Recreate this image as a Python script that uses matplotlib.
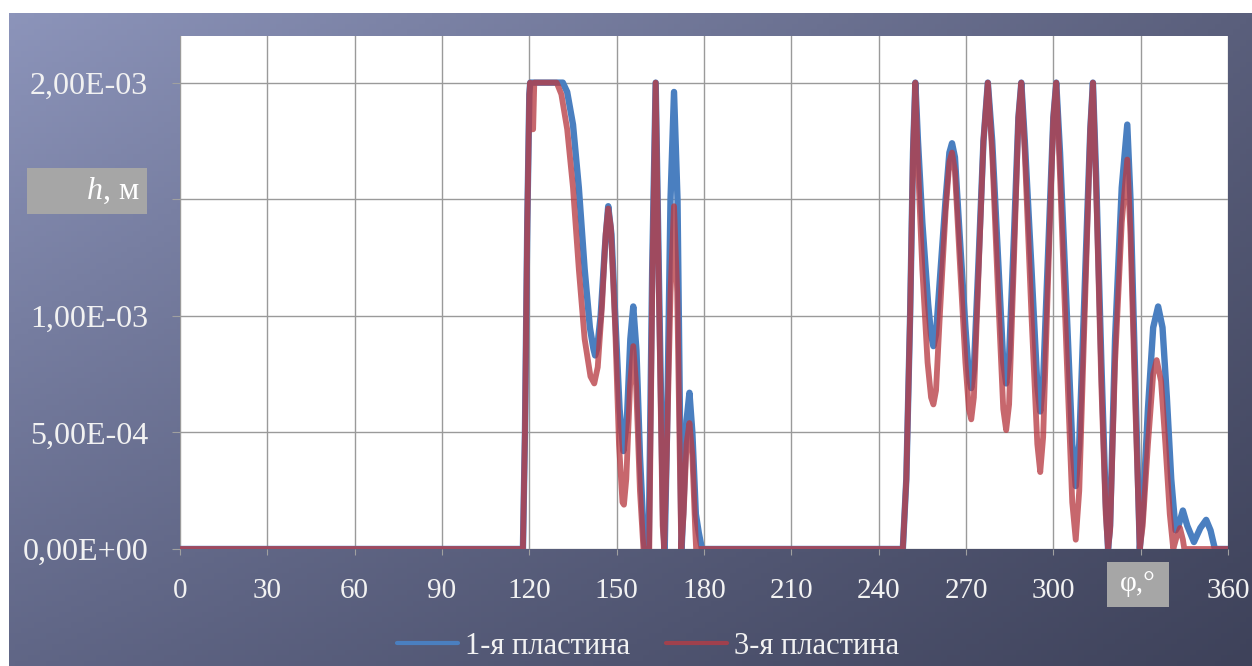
import numpy as np
import matplotlib
matplotlib.use("Agg")
import matplotlib.pyplot as plt
from matplotlib.patches import Rectangle

plt.rcParams['font.family'] = ['Liberation Serif', 'DejaVu Serif']
plt.rcParams['mathtext.fontset'] = 'custom'
plt.rcParams['mathtext.it'] = 'Liberation Serif:italic'
plt.rcParams['mathtext.rm'] = 'Liberation Serif'

# h (x1e-3 m) vs phi (deg)
phi_1 = [0, 117.8, 118.5, 119.3, 120, 120.3, 131.5, 133, 135, 137, 139, 140.8, 142, 142.6,
         143.3, 144.5, 146, 147.1, 148.2, 149.5, 151, 152.3, 153.5, 154.7, 155.7, 156.8,
         158, 159.3, 159.6, 161, 162.2, 163.4, 164.6, 166, 166.5, 167.3, 168.5, 169.7,
         170.9, 171.8, 172.3, 173, 174, 175, 176, 177.2, 178.2, 179.3,
         248.3, 249.5, 250.8, 251.8, 252.6, 253.5, 255, 257, 258, 258.8, 259.7, 261, 263,
         264.3, 265.2, 266.2, 267.8, 269.8, 271, 271.8, 272.7, 274.2, 276, 277.5, 279, 281,
         282.8, 283.8, 284.8, 286.5, 288, 289, 290.2, 292.5, 294.5, 295.5, 296.5, 298.3,
         300, 301, 302.3, 304.5, 306.5, 307.7, 308.9, 311, 312.7, 313.6, 314.7, 316.5, 318,
         318.8, 319.5, 321.2, 323.5, 325.4, 326.5, 328.2, 329.7, 330.7, 332.5, 334.3, 336,
         337.5, 339, 340.5, 342, 343, 344.5, 346, 348.3, 350.5, 352.5, 354, 355.5, 360]
h_1 = [0, 0, 0.5, 1.4, 1.95, 2.0, 2.0, 1.96, 1.82, 1.55, 1.2, 0.95, 0.86, 0.83,
       0.86, 1.0, 1.3, 1.47, 1.35, 1.0, 0.6, 0.42, 0.55, 0.9, 1.04, 0.85,
       0.4, 0.05, 0, 0, 1.2, 2.0, 1.1, 0.1, 0, 0.5, 1.5, 1.96,
       1.5, 0.5, 0, 0.2, 0.55, 0.67, 0.5, 0.15, 0.07, 0,
       0, 0.3, 1.0, 1.7, 2.0, 1.75, 1.4, 1.05, 0.92, 0.87, 0.92, 1.15, 1.5,
       1.7, 1.74, 1.68, 1.35, 0.95, 0.74, 0.69, 0.77, 1.2, 1.75, 2.0, 1.75, 1.25,
       0.8, 0.71, 0.82, 1.35, 1.85, 2.0, 1.75, 1.2, 0.7, 0.59, 0.72, 1.3,
       1.85, 2.0, 1.7, 1.05, 0.45, 0.27, 0.45, 1.2, 1.8, 2.0, 1.6, 0.8, 0.2,
       0, 0.1, 0.9, 1.55, 1.82, 1.5, 0.7, 0, 0.15, 0.6, 0.95, 1.04,
       0.95, 0.65, 0.3, 0.08, 0.1, 0.165, 0.1, 0.03, 0.09, 0.125, 0.08, 0, 0]

phi_3 = [0, 117.8, 118.5, 119.3, 120, 120.3, 120.7, 121.3, 121.7, 129.4, 131, 133, 135, 137,
         139, 141, 142.3, 143.5, 145, 146.2, 147.1, 148, 149.5, 150.8, 152, 152.5, 153.3,
         154.6, 155.7, 156.7, 158, 159.2, 161.2, 162.3, 163.4, 164.5, 165.8, 166.3, 167.2,
         168.5, 169.7, 170.8, 171.8, 172.2, 173, 174, 175, 176, 177, 177.3,
         248.3, 249.5, 250.8, 251.8, 252.6, 253.5, 255, 256.8, 258, 258.8, 259.7, 261, 263,
         264.3, 265.2, 266.2, 267.8, 269.8, 271, 271.8, 272.7, 274.2, 276, 277.5, 279, 281,
         282.8, 283.8, 284.8, 286.5, 288, 289, 290.2, 292.5, 294.5, 295.5, 296.5, 298.3,
         300, 301, 302.3, 304.5, 306.5, 307.7, 308.9, 311, 312.7, 313.6, 314.7, 316.5, 318,
         318.8, 319.5, 321.2, 323.5, 325.4, 326.5, 328.2, 329.7, 330.7, 332.5, 334.3, 335.5,
         337, 338.5, 340, 341.2, 342.3, 343.5, 344.5, 345, 360]
h_3 = [0, 0, 0.5, 1.4, 1.95, 2.0, 1.8, 1.8, 2.0, 2.0, 1.95, 1.8, 1.55, 1.2,
       0.9, 0.74, 0.71, 0.78, 1.05, 1.35, 1.46, 1.38, 0.95, 0.45, 0.2, 0.19, 0.3,
       0.7, 0.87, 0.7, 0.25, 0, 0, 1.2, 2.0, 1.1, 0.1, 0, 0.4,
       1.1, 1.47, 1.1, 0.3, 0, 0.15, 0.45, 0.54, 0.4, 0.08, 0,
       0, 0.3, 1.0, 1.7, 2.0, 1.65, 1.2, 0.8, 0.65, 0.62, 0.68, 1.0, 1.45,
       1.66, 1.70, 1.62, 1.25, 0.8, 0.6, 0.556, 0.65, 1.15, 1.75, 2.0, 1.7, 1.1,
       0.6, 0.51, 0.62, 1.25, 1.85, 2.0, 1.7, 1.0, 0.45, 0.33, 0.48, 1.2,
       1.85, 2.0, 1.6, 0.85, 0.2, 0.04, 0.25, 1.1, 1.8, 2.0, 1.55, 0.7, 0.15,
       0, 0.08, 0.8, 1.4, 1.67, 1.35, 0.6, 0, 0.1, 0.45, 0.75, 0.81,
       0.72, 0.45, 0.15, 0, 0.05, 0.09, 0.04, 0, 0]

x_ticks = list(range(0, 361, 30))
x_labels = [str(t) if t != 330 else "" for t in x_ticks]
y_ticks = [0, 5e-4, 1e-3, 1.5e-3, 2e-3]
y_labels = ["0,00E+00", "5,00E-04", "1,00E-03", "", "2,00E-03"]
series_names = ["1-я пластина", "3-я пластина"]

W, H = 1252, 666
fig = plt.figure(figsize=(W / 100, H / 100), dpi=100, facecolor="white")

# slide background gradient
bg = fig.add_axes([9 / W, 0, 1 - 9 / W, (H - 13) / H])
bg.set_axis_off()
tl = np.array([140, 148, 186]) / 255
tr = np.array([90, 95, 124]) / 255
bl = np.array([96, 102, 134]) / 255
br = np.array([62, 66, 90]) / 255
u = np.linspace(0, 1, 200)[None, :, None]
v = np.linspace(0, 1, 120)[:, None, None]
grad = (1 - v) * ((1 - u) * tl + u * tr) + v * ((1 - u) * bl + u * br)
bg.imshow(grad, aspect="auto", extent=[0, 1, 0, 1], origin="upper")
bg.set_xlim(0, 1)
bg.set_ylim(0, 1)

ax = fig.add_axes([180 / W, (H - 549) / H, 1048 / W, 513 / H])
ax.set_facecolor("white")
ax.plot(phi_1, np.array(h_1) * 1e-3, color="#4a7fc0", lw=4.6, solid_joinstyle="round",
        solid_capstyle="round", label=series_names[0], zorder=3)
ax.plot(phi_3, np.array(h_3) * 1e-3, color="#b83c44", lw=4.2, alpha=0.78,
        solid_joinstyle="round", solid_capstyle="round", label=series_names[1], zorder=4)

ax.set_xlim(0, 360)
ax.set_ylim(0, 2.2e-3)
ax.set_xticks(x_ticks)
ax.set_xticklabels(x_labels)
ax.set_yticks(y_ticks)
ax.set_yticklabels(y_labels)
ax.grid(True, color="#9a9a9a", lw=1.0)
ax.set_axisbelow(True)
for s in ax.spines.values():
    s.set_visible(False)
ax.tick_params(axis="y", length=6, color="#a0a0a0", pad=17, labelsize=23, labelcolor="#f2f2f2")
ax.tick_params(axis="x", length=4, color="#a0a0a0", pad=17, labelsize=21, labelcolor="#f2f2f2")

# axis title boxes
fig.patches.append(Rectangle((27 / W, (H - 214) / H), 120 / W, 46 / H, transform=fig.transFigure,
                             facecolor="#a6a6a6", edgecolor="none", zorder=5))
fig.text(140 / W, (H - 191) / H, "$h$, м", ha="right", va="center", fontsize=23,
         color="white", zorder=6)
fig.patches.append(Rectangle((1107 / W, (H - 607) / H), 62 / W, 45 / H, transform=fig.transFigure,
                             facecolor="#a6a6a6", edgecolor="none", zorder=5))
fig.text(1138 / W, (H - 584) / H, "φ,°", ha="center", va="center", fontsize=21,
         color="white", zorder=6)

leg = fig.legend(loc="center", bbox_to_anchor=(648 / W, (H - 646) / H), ncol=2, frameon=False,
                 fontsize=22, handlelength=2.0, handletextpad=0.2, columnspacing=1.2)
for t in leg.get_texts():
    t.set_color("#f2f2f2")
for ln in leg.get_lines():
    ln.set_linewidth(3.0)

fig.savefig("out.png", dpi=100, facecolor=fig.get_facecolor())
